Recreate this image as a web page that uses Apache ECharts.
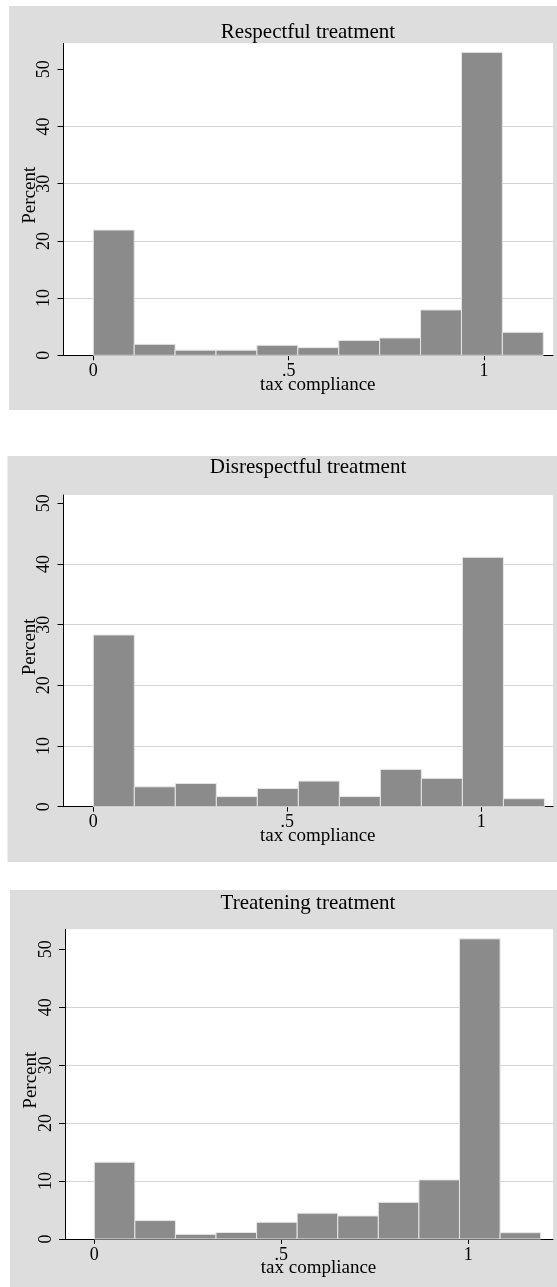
<!DOCTYPE html>
<html>
<head>
<meta charset="utf-8">
<script src="https://cdn.jsdelivr.net/npm/echarts@6/dist/echarts.min.js"></script>
<style>
html,body{margin:0;padding:0;background:#fff;}
#chart{width:557px;height:1287px;}
</style>
</head>
<body>
<div id="chart"></div>
<script>
// ---- data ----
const panelTitles = ['Respectful treatment', 'Disrespectful treatment', 'Treatening treatment'];
const respectful    = [21.9, 1.92, 0.9, 0.9, 1.75, 1.34, 2.6, 3.03, 7.93, 52.97, 4.02];
const disrespectful = [28.3, 3.27, 3.82, 1.67, 3.0, 4.22, 1.67, 6.15, 4.67, 41.1, 1.32];
const threatening   = [13.25, 3.18, 0.8, 1.12, 2.89, 4.45, 3.98, 6.33, 10.2, 51.8, 1.09];
const binStart = [0, 0, 0];
const binWidth = [0.1047, 0.1057, 0.1085];
const xMin = [-0.0763, -0.0768, -0.0783];
const xMax = [1.1766, 1.1848, 1.2265];
const yMax = [54.55, 51.37, 53.45];
const xTickValues = [0, 0.5, 1];
const xTickLabels = ['0', '.5', '1'];
const yTickValues = [0, 10, 20, 30, 40, 50];
const xTitle = 'tax compliance';
const yTitle = 'Percent';

const seriesValues = [respectful, disrespectful, threatening];

// ---- layout ----
const FONT = 'Liberation Serif';
const grids = [
  {left: 63.5, top: 43.3, width: 489.5, height: 312},
  {left: 63.5, top: 495, width: 489.5, height: 311.7},
  {left: 65, top: 929.3, width: 488, height: 309.7}
];
const panels = [
  {x: 9, y: 6, w: 560, h: 404},
  {x: 7.5, y: 456, w: 560, h: 406},
  {x: 10, y: 890, w: 560, h: 400}
];
const titleTops = [17, 452, 887.5];

const chart = echarts.init(document.getElementById('chart'), null, {renderer: 'canvas'});

const option = {
  animation: false,
  backgroundColor: '#ffffff',
  graphic: panels.map(p => ({
    type: 'rect', z: -100,
    shape: {x: p.x, y: p.y, width: p.w, height: p.h},
    style: {fill: '#dcdddc'}
  })),
  title: panelTitles.map((t, i) => ({
    text: t, left: 303, top: titleTops[i], textAlign: 'center',
    textStyle: {fontFamily: FONT, fontSize: 21, fontWeight: 'normal', color: '#000'}
  })),
  grid: grids.map(g => Object.assign({show: true, backgroundColor: '#ffffff', borderWidth: 0}, g)),
  xAxis: grids.map((g, i) => ({
    type: 'value', gridIndex: i, min: xMin[i], max: xMax[i],
    name: xTitle, nameLocation: 'middle', nameGap: 20, nameMoveOverlap: false,
    nameTextStyle: {fontFamily: FONT, fontSize: 19, color: '#000', padding: [0, 0, 0, 19]},
    axisLine: {show: true, onZero: false, lineStyle: {color: '#000', width: 1}},
    axisTick: {show: true, length: 5, customValues: xTickValues, lineStyle: {color: '#000'}},
    axisLabel: {
      customValues: xTickValues, margin: 7,
      fontFamily: FONT, fontSize: 18, color: '#000',
      formatter: v => { const k = xTickValues.findIndex(t => Math.abs(t - v) < 1e-9); return k >= 0 ? xTickLabels[k] : ''; }
    },
    splitLine: {show: false}
  })),
  yAxis: grids.map((g, i) => ({
    type: 'value', gridIndex: i, min: 0, max: yMax[i], interval: 10,
    name: yTitle, nameLocation: 'middle', nameRotate: 90, nameGap: 24, nameMoveOverlap: false,
    nameTextStyle: {fontFamily: FONT, fontSize: 19, color: '#000', padding: [0, 0, 0, 8]},
    axisLine: {show: true, onZero: false, lineStyle: {color: '#000', width: 1}},
    axisTick: {show: true, length: 6, customValues: yTickValues, lineStyle: {color: '#000'}},
    axisLabel: {customValues: yTickValues, rotate: 90, margin: 10, fontFamily: FONT, fontSize: 18, color: '#000'},
    splitLine: {show: true, showMinLine: false, showMaxLine: false, lineStyle: {color: '#d4d4d4', width: 1}}
  })),
  series: seriesValues.map((vals, i) => ({
    type: 'custom', xAxisIndex: i, yAxisIndex: i,
    data: vals.map((v, k) => [binStart[i] + k * binWidth[i], binStart[i] + (k + 1) * binWidth[i], v]),
    renderItem: (params, api) => {
      const p0 = api.coord([api.value(0), api.value(2)]);
      const p1 = api.coord([api.value(1), 0]);
      return {
        type: 'rect',
        shape: {x: p0[0], y: p0[1], width: p1[0] - p0[0], height: p1[1] - p0[1]},
        style: {fill: '#8b8b8b', stroke: '#e6e6e6', lineWidth: 1}
      };
    }
  }))
};
chart.setOption(option);
</script>
</body>
</html>
